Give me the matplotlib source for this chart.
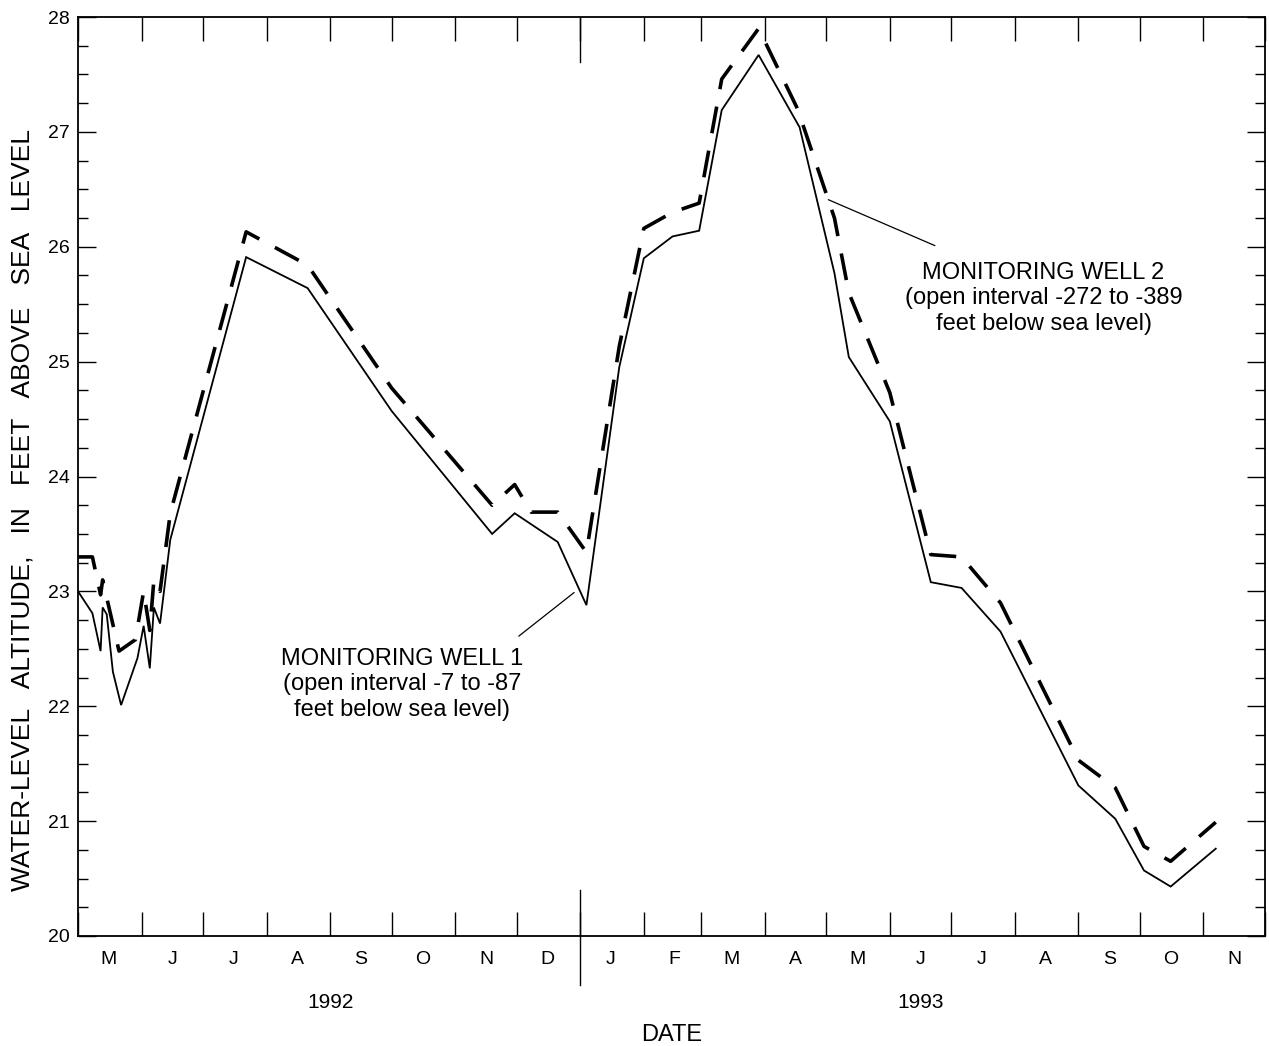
import numpy as np
import pandas as pd
import matplotlib
matplotlib.use("Agg")
import matplotlib.pyplot as plt
import matplotlib.dates as mdates
from matplotlib.ticker import MultipleLocator, FixedLocator, NullFormatter, FixedFormatter

plt.rcParams["font.family"] = ["Liberation Sans", "DejaVu Sans"]

# Monitoring well 1 (open interval -7 to -87 ft)
well1_dates = ["1992-05-01", "1992-05-08", "1992-05-12", "1992-05-13", "1992-05-15",
               "1992-05-18", "1992-05-22", "1992-05-30", "1992-06-02", "1992-06-05",
               "1992-06-07", "1992-06-10", "1992-06-15", "1992-07-22", "1992-08-21",
               "1992-10-01", "1992-11-19", "1992-11-30", "1992-12-21", "1993-01-04",
               "1993-01-20", "1993-02-01", "1993-02-15", "1993-02-28", "1993-03-11",
               "1993-03-29", "1993-04-18", "1993-05-05", "1993-05-12", "1993-06-01",
               "1993-06-21", "1993-07-06", "1993-07-25", "1993-09-01", "1993-09-19",
               "1993-10-03", "1993-10-16", "1993-11-07"]
well1_ft = [23.00, 22.81, 22.48, 22.86, 22.80,
            22.30, 22.01, 22.42, 22.70, 22.33,
            22.86, 22.72, 23.45, 25.91, 25.64,
            24.57, 23.50, 23.68, 23.43, 22.88,
            24.95, 25.90, 26.09, 26.14, 27.19,
            27.67, 27.04, 25.77, 25.04, 24.48,
            23.08, 23.03, 22.65, 21.31, 21.02,
            20.57, 20.43, 20.76]

# Monitoring well 2 (open interval -272 to -389 ft)
well2_dates = ["1992-05-01", "1992-05-08", "1992-05-12", "1992-05-13", "1992-05-21",
               "1992-05-29", "1992-06-02", "1992-06-05", "1992-06-07", "1992-06-10",
               "1992-06-15", "1992-07-22", "1992-08-21", "1992-10-01", "1992-11-19",
               "1992-11-30", "1992-12-08", "1992-12-21", "1993-01-04", "1993-01-20",
               "1993-02-01", "1993-02-15", "1993-02-28", "1993-03-11", "1993-03-29",
               "1993-04-17", "1993-05-05", "1993-05-12", "1993-06-01", "1993-06-21",
               "1993-07-06", "1993-07-25", "1993-09-01", "1993-09-19", "1993-10-03",
               "1993-10-16", "1993-11-07"]
well2_ft = [23.30, 23.30, 22.97, 23.10, 22.48,
            22.58, 23.00, 22.66, 23.10, 23.00,
            23.68, 26.13, 25.84, 24.77, 23.75,
            23.93, 23.69, 23.69, 23.34, 25.13,
            26.16, 26.30, 26.38, 27.46, 27.90,
            27.20, 26.25, 25.60, 24.73, 23.32,
            23.30, 22.90, 21.53, 21.29, 20.78,
            20.65, 20.99]

month_letters = ["M", "J", "J", "A", "S", "O", "N", "D",
                 "J", "F", "M", "A", "M", "J", "J", "A", "S", "O", "N"]
year_labels = ["1992", "1993"]
year_label_dates = ["1992-09-01", "1993-06-16"]
year_break = "1993-01-01"

d1 = pd.to_datetime(well1_dates)
d2 = pd.to_datetime(well2_dates)

fig = plt.figure(figsize=(12.69, 10.46), dpi=100)
ax = fig.add_axes([0.0615, 0.1052, 0.9353, 0.8785])

ax.plot(d1, well1_ft, color="black", lw=1.3, solid_joinstyle="miter")
ax.plot(d2, well2_ft, color="black", lw=2.6, ls=(0, (7.5, 4.9)), dash_capstyle="butt")

# axes limits
month_starts = pd.date_range("1992-05-01", "1993-12-01", freq="MS")
ax.set_xlim(month_starts[0], month_starts[-1])
ax.set_ylim(20, 28)

# x ticks: month boundaries, letters at mid month
ax.xaxis.set_major_locator(FixedLocator(mdates.date2num(month_starts)))
ax.xaxis.set_major_formatter(NullFormatter())
mids = month_starts[:-1] + pd.Timedelta(days=15)
ax.xaxis.set_minor_locator(FixedLocator(mdates.date2num(mids)))
ax.xaxis.set_minor_formatter(FixedFormatter(month_letters))
ax.tick_params(axis="x", which="major", direction="in", length=17, width=1.0,
               top=True, bottom=True)
ax.tick_params(axis="x", which="minor", length=0, pad=11, labelsize=14)

# y ticks
ax.yaxis.set_major_locator(MultipleLocator(1))
ax.yaxis.set_minor_locator(MultipleLocator(0.25))
ax.tick_params(axis="y", which="major", direction="in", length=13, width=1.0,
               left=True, right=True, labelsize=14, pad=6)
ax.tick_params(axis="y", which="minor", direction="in", length=7.5, width=1.0,
               left=True, right=True)

for s in ax.spines.values():
    s.set_linewidth(1.3)

# year divider (long tick marks at the turn of the year)
xb = mdates.date2num(pd.Timestamp(year_break))
trans = ax.get_xaxis_transform()
ax.plot([xb, xb], [-0.053, 0.05], transform=trans, color="black", lw=1.0, clip_on=False)
ax.plot([xb, xb], [0.951, 1.0], transform=trans, color="black", lw=1.0, clip_on=False)

for lbl, d in zip(year_labels, year_label_dates):
    ax.text(pd.Timestamp(d), -0.072, lbl, transform=trans, ha="center", va="center",
            fontsize=15)

ax.set_xlabel("DATE", fontsize=17, labelpad=40)
ax.set_ylabel("WATER-LEVEL   ALTITUDE,   IN   FEET   ABOVE   SEA   LEVEL", fontsize=19)
ax.yaxis.set_label_coords(-0.037, 0.4635)

# labels with leader lines
ax.text(pd.Timestamp("1993-08-15"), 25.55,
        "MONITORING WELL 2\n(open interval -272 to -389\nfeet below sea level)",
        ha="center", va="center", multialignment="center", fontsize=17)
ax.annotate("", xy=(pd.Timestamp("1993-05-02"), 26.41),
            xytext=(pd.Timestamp("1993-06-23"), 26.01),
            arrowprops=dict(arrowstyle="-", lw=0.9, color="black", shrinkA=0, shrinkB=0))

ax.text(pd.Timestamp("1992-10-06"), 22.19,
        "MONITORING WELL 1\n(open interval -7 to -87\nfeet below sea level)",
        ha="center", va="center", multialignment="center", fontsize=17)
ax.annotate("", xy=(pd.Timestamp("1992-12-29"), 22.99),
            xytext=(pd.Timestamp("1992-12-02"), 22.61),
            arrowprops=dict(arrowstyle="-", lw=0.9, color="black", shrinkA=0, shrinkB=0))

fig.savefig("out.png", dpi=100, facecolor="white")
